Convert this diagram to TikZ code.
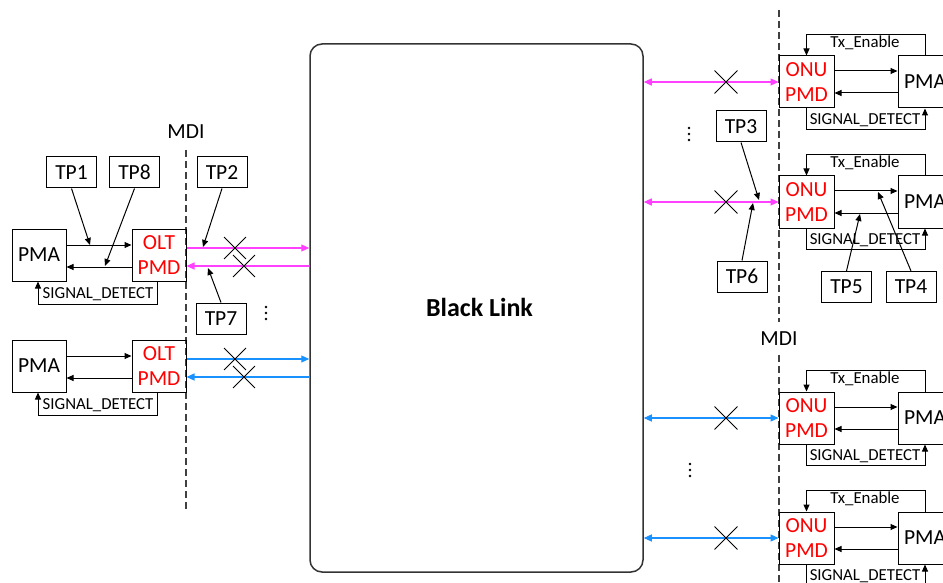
\documentclass[tikz,border=0pt]{standalone}
\usepackage{fontspec}
\setmainfont{Carlito}
\usetikzlibrary{arrows.meta,shapes.misc}
\definecolor{mag}{RGB}{255,64,255}
\definecolor{sky}{RGB}{25,145,255}
\begin{document}
\begin{tikzpicture}[x=1pt,y=-1pt,
  box/.style={draw=black,line width=1,inner sep=0,font=\fontsize{21.5}{25}\selectfont,align=center},
  tp/.style={box,minimum width=50,minimum height=31},
  blk/.style={box,minimum width=54,minimum height=52},
  pmd/.style={blk,text=red},
  sig/.style={font=\fontsize{16.8}{18}\selectfont,inner sep=0},
  lbl/.style={font=\fontsize{21.5}{25}\selectfont,inner sep=0},
  wire/.style={line width=1,-{Triangle[length=7,width=6]}},
  cline/.style={line width=1.2},
  tipc/.style={-{Triangle[length=8,width=7]}},
  xmark/.style={cross out,draw=black,line width=0.9,minimum size=21,inner sep=0},
  mdiline/.style={draw=black!75,line width=1.2,dash pattern=on 7 off 4},
  dot/.style={circle,fill=black,inner sep=0,minimum size=2.8}
]
\useasboundingbox (0,0) rectangle (943,583);
\clip (0,0) rectangle (943,583);

% Black link
\node[draw=black!80,line width=1.5,rounded corners=12,minimum width=333,minimum height=528,inner sep=0] (bl) at (476.5,308) {};
\node[font=\fontsize{26}{30}\selectfont\bfseries,inner sep=0] (bltext) at (479.5,307) {Black Link};

% MDI lines
\node[lbl] (mdil) at (186,132) {MDI};
\node[lbl] (mdir) at (779,339) {MDI};
\coordinate (mdila) at (186,150);
\coordinate (mdilb) at (186,512);
\coordinate (mdira) at (779,10);
\coordinate (mdirb) at (779,322);
\coordinate (mdirc) at (779,355);
\coordinate (mdird) at (779,583);
\draw[mdiline] (mdila) -- (mdilb);
\draw[mdiline] (mdira) -- (mdirb);
\draw[mdiline] (mdirc) -- (mdird);

% Left groups
\foreach \i/\y/\c in {1/229/mag,2/340/sky}{
  \node[blk] (pmal\i) at (39,\y+26) {PMA};
  \node[pmd] (olt\i) at (159,\y+26) {OLT\\PMD};
  \draw[wire] ([yshift=10]pmal\i.east) -- ([yshift=10]pmal\i.east -| olt\i.west);
  \draw[wire] ([yshift=-12]olt\i.west) -- ([yshift=-12]olt\i.west -| pmal\i.east);
  \draw[wire] ([xshift=-2]olt\i.south) -- ++(0,23) -| ([xshift=-1]pmal\i.south);
  \node[sig] (sdl\i) at (98,\y+65) {SIGNAL\_DETECT};
  \draw[cline,\c,tipc] ([yshift=7]olt\i.east) -- ([yshift=7]olt\i.east -| bl.west);
  \draw[cline,\c,tipc] ([yshift=-11]olt\i.east -| bl.west) -- ([yshift=-11]olt\i.east);
  \node[xmark] (xa\i) at (235,\y+19) {};
  \node[xmark] (xb\i) at (244,\y+37) {};
}

% Right groups
\foreach \i/\y/\c in {1/56/mag,2/176/mag,3/392/sky,4/512/sky}{
  \node[pmd,minimum width=55] (onu\i) at (806.5,\y+26) {ONU\\PMD};
  \node[blk] (pmar\i) at (925,\y+26) {PMA};
  \draw[wire] ([yshift=11]onu\i.east) -- ([yshift=11]onu\i.east -| pmar\i.west);
  \draw[wire] ([yshift=-11]pmar\i.west) -- ([yshift=-11]pmar\i.west -| onu\i.east);
  \draw[wire] (pmar\i.north) -- ++(0,-21) -| (onu\i.north);
  \node[sig] (tx\i) at (865,\y-13) {Tx\_Enable};
  \draw[wire] (onu\i.south) -- ++(0,21) -| (pmar\i.south);
  \node[sig] (sdr\i) at (865,\y+64) {SIGNAL\_DETECT};
  \draw[cline,\c,{Triangle[length=8,width=7]}-{Triangle[length=8,width=7]}] (bl.east |- onu\i.west) -- (onu\i.west);
  \node[xmark,minimum size=22] (xr\i) at (726,\y+26) {};
}

% Test points
\node[tp] (tp1) at (71.5,172.5) {TP1};
\node[tp] (tp8) at (134.5,172.5) {TP8};
\node[tp] (tp2) at (222,172.5) {TP2};
\node[tp] (tp7) at (221,318.5) {TP7};
\node[tp] (tp3) at (741,126.5) {TP3};
\node[tp] (tp6) at (742,276.5) {TP6};
\node[tp] (tp5) at (846.5,287) {TP5};
\node[tp] (tp4) at (911,287) {TP4};
\coordinate (e1) at (90,245);
\coordinate (e8) at (105,266);
\coordinate (e2) at (203,247);
\coordinate (e7) at (208,268);
\coordinate (e3) at (759,200);
\coordinate (e6) at (753,203);
\coordinate (e5) at (860,214);
\coordinate (e4) at (878,192);
\draw[wire] (tp1.south) -- (e1);
\draw[wire] (tp8.south) -- (e8);
\draw[wire] (tp2.south) -- (e2);
\draw[wire] (tp7.north) -- (e7);
\draw[wire] (tp3.south) -- (e3);
\draw[wire] (tp6.north) -- (e6);
\draw[wire] (tp5.north) -- (e5);
\draw[wire] (tp4.north) -- (e4);

% vertical ellipses
\foreach \n/\x/\yy in {a/266/313,b/689/134,c/690/470}{
  \node[dot] (\n1) at (\x,\yy-6) {};
  \node[dot] (\n2) at (\x,\yy) {};
  \node[dot] (\n3) at (\x,\yy+6) {};
}
\end{tikzpicture}
\end{document}
